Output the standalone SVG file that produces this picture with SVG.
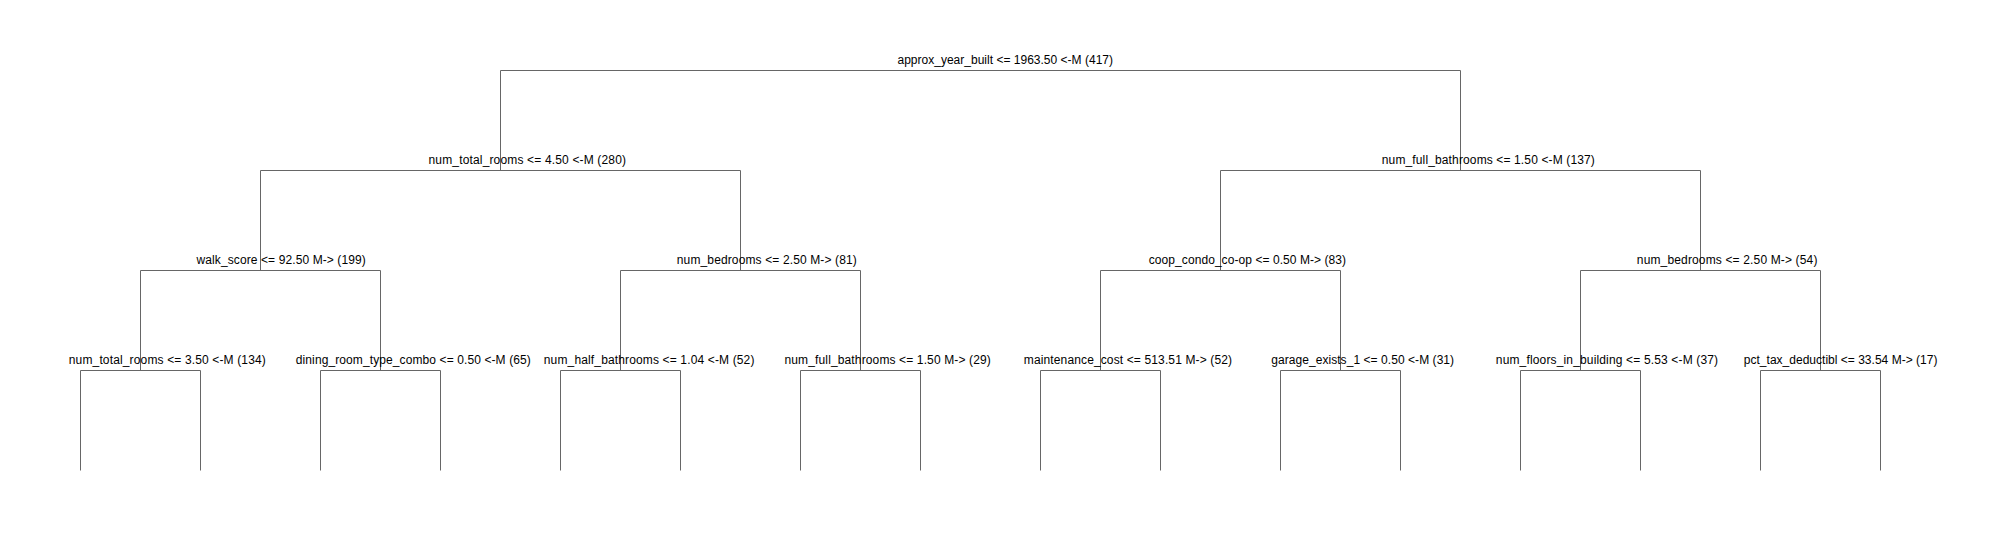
<svg xmlns="http://www.w3.org/2000/svg" width="2006" height="540" viewBox="0 0 2006 540">
<style>
.bg{fill:#ffffff}
.edge{fill:none;stroke:#666666;stroke-width:1}
.lbl{font-family:"Liberation Sans",Arial,sans-serif;font-size:12px;fill:#000000}
</style>
<rect class="bg" x="0" y="0" width="2006" height="540"/>
<g id="connectors" transform="translate(0.5,0.5)">
<path class="edge" d="M500 170 V70 H1460 V170"/>
<path class="edge" d="M260 270 V170 H740 V270"/>
<path class="edge" d="M1220 270 V170 H1700 V270"/>
<path class="edge" d="M140 370 V270 H380 V370"/>
<path class="edge" d="M620 370 V270 H860 V370"/>
<path class="edge" d="M1100 370 V270 H1340 V370"/>
<path class="edge" d="M1580 370 V270 H1820 V370"/>
<path class="edge" d="M80 470 V370 H200 V470"/>
<path class="edge" d="M320 470 V370 H440 V470"/>
<path class="edge" d="M560 470 V370 H680 V470"/>
<path class="edge" d="M800 470 V370 H920 V470"/>
<path class="edge" d="M1040 470 V370 H1160 V470"/>
<path class="edge" d="M1280 470 V370 H1400 V470"/>
<path class="edge" d="M1520 470 V370 H1640 V470"/>
<path class="edge" d="M1760 470 V370 H1880 V470"/>
</g>
<g id="node-root"><text class="lbl" x="897.5" y="64" textLength="215.5" lengthAdjust="spacing">approx_year_built &lt;= 1963.50 &lt;-M (417)</text></g>
<g id="node-L"><text class="lbl" x="428.5" y="164" textLength="197.5" lengthAdjust="spacing">num_total_rooms &lt;= 4.50 &lt;-M (280)</text></g>
<g id="node-R"><text class="lbl" x="1381.8" y="164" textLength="213" lengthAdjust="spacing">num_full_bathrooms &lt;= 1.50 &lt;-M (137)</text></g>
<g id="node-LL"><text class="lbl" x="196.5" y="264" textLength="169.3" lengthAdjust="spacing">walk_score &lt;= 92.50 M-&gt; (199)</text></g>
<g id="node-LR"><text class="lbl" x="676.8" y="264" textLength="180" lengthAdjust="spacing">num_bedrooms &lt;= 2.50 M-&gt; (81)</text></g>
<g id="node-RL"><text class="lbl" x="1148.8" y="264" textLength="197.3" lengthAdjust="spacing">coop_condo_co-op &lt;= 0.50 M-&gt; (83)</text></g>
<g id="node-RR"><text class="lbl" x="1636.8" y="264" textLength="180.6" lengthAdjust="spacing">num_bedrooms &lt;= 2.50 M-&gt; (54)</text></g>
<g id="node-LLL"><text class="lbl" x="68.8" y="364" textLength="197" lengthAdjust="spacing">num_total_rooms &lt;= 3.50 &lt;-M (134)</text></g>
<g id="node-LLR"><text class="lbl" x="295.8" y="364" textLength="235" lengthAdjust="spacing">dining_room_type_combo &lt;= 0.50 &lt;-M (65)</text></g>
<g id="node-LRL"><text class="lbl" x="543.8" y="364" textLength="210.6" lengthAdjust="spacing">num_half_bathrooms &lt;= 1.04 &lt;-M (52)</text></g>
<g id="node-LRR"><text class="lbl" x="784.5" y="364" textLength="206.3" lengthAdjust="spacing">num_full_bathrooms &lt;= 1.50 M-&gt; (29)</text></g>
<g id="node-RLL"><text class="lbl" x="1023.8" y="364" textLength="208.2" lengthAdjust="spacing">maintenance_cost &lt;= 513.51 M-&gt; (52)</text></g>
<g id="node-RLR"><text class="lbl" x="1271.2" y="364" textLength="182.9" lengthAdjust="spacing">garage_exists_1 &lt;= 0.50 &lt;-M (31)</text></g>
<g id="node-RRL"><text class="lbl" x="1495.8" y="364" textLength="222.3" lengthAdjust="spacing">num_floors_in_building &lt;= 5.53 &lt;-M (37)</text></g>
<g id="node-RRR"><text class="lbl" x="1743.8" y="364" textLength="193.6" lengthAdjust="spacing">pct_tax_deductibl &lt;= 33.54 M-&gt; (17)</text></g>
</svg>
